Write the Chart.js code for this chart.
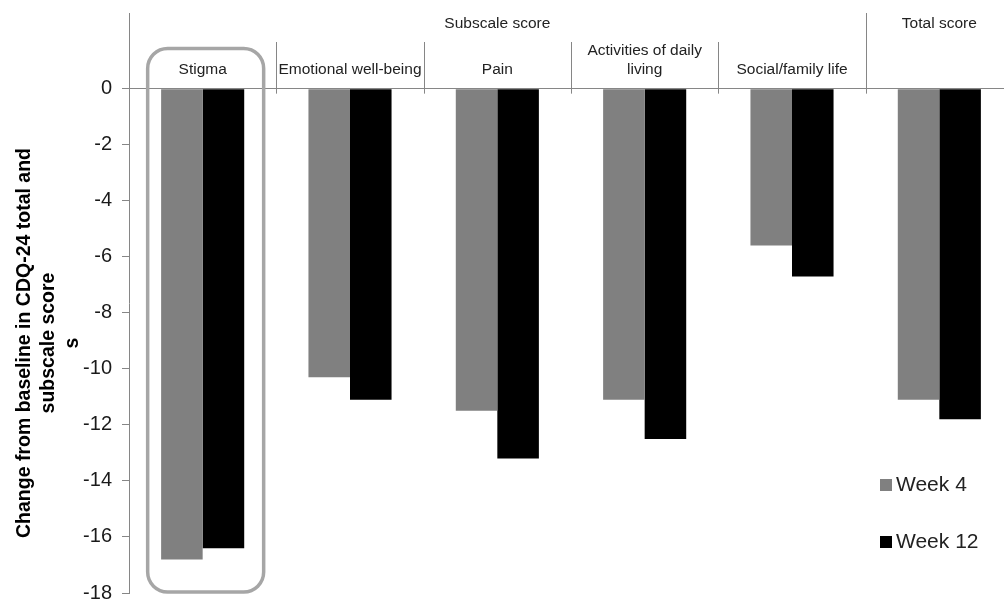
<!DOCTYPE html>
<html>
<head>
<meta charset="utf-8">
<title>CDQ-24 change from baseline</title>
<script src="https://cdn.jsdelivr.net/npm/chart.js"></script>
<style>
  html, body { margin: 0; padding: 0; background: #fff; overflow: hidden; width: 1004px; height: 603px; }
  /* plot runs a little past the right edge of the window, so the last group is clipped */
  #wrap { position: absolute; left: 0; top: 0; width: 1020px; height: 603px; }
</style>
</head>
<body>
<div id="wrap"><canvas id="cdqChart"></canvas></div>
<script>
// Data: change from baseline in CDQ-24 scores
const categories = ['Stigma', 'Emotional well-being', 'Pain', 'Activities of daily living', 'Social/family life', 'Total score'];
const categoryLines = [['Stigma'], ['Emotional well-being'], ['Pain'], ['Activities of daily', 'living'], ['Social/family life'], []];
const week4 = [-16.8, -10.3, -11.5, -11.1, -5.6, -11.1];
const week12 = [-16.4, -11.1, -13.2, -12.5, -6.7, -11.8];
const yTicks = [-18, -16, -14, -12, -10, -8, -6, -4, -2, 0];
const yTitleLines = ['Change from baseline in CDQ-24 total and', 'subscale score', 's'];

const FONT = "'Liberation Sans', Arial, sans-serif";
const axisGray = '#868686';

// Header row, group separators, highlight frame, title and legend
const chartExtras = {
    id: 'chartExtras',
    afterDraw(chart) {
        const ctx = chart.ctx;
        const x = chart.scales.x;
        const y = chart.scales.y;
        const area = chart.chartArea;
        const zeroY = y.getPixelForValue(0);
        const n = categories.length;
        const boundary = i => i === 0 ? area.left : (i === n ? area.right : (x.getPixelForValue(i - 1) + x.getPixelForValue(i)) / 2);

        ctx.save();

        // separators between groups
        ctx.strokeStyle = axisGray;
        ctx.lineWidth = 1;
        for (let i = 1; i <= n; i++) {
            const bx = Math.round(boundary(i)) + 0.5;
            const top = (i === n - 1 || i === n) ? area.top : 42;
            ctx.beginPath();
            ctx.moveTo(bx, top);
            ctx.lineTo(bx, zeroY + 5);
            ctx.stroke();
        }

        // group headers
        ctx.fillStyle = '#222';
        ctx.font = '15.5px ' + FONT;
        ctx.textAlign = 'center';
        ctx.textBaseline = 'middle';
        ctx.fillText('Subscale score', (boundary(0) + boundary(n - 1)) / 2, 24);
        ctx.fillText('Total score', x.getPixelForValue(n - 1), 24);

        // category names, bottom line sits just above the zero line
        categoryLines.forEach((lines, i) => {
            const cx = x.getPixelForValue(i);
            lines.forEach((t, j) => {
                ctx.fillText(t, cx, 70 - (lines.length - 1 - j) * 19);
            });
        });

        // rounded frame around the stigma group
        const fc = x.getPixelForValue(0) + 3;
        const fx = fc - 58, fw = 116;
        const fy = 48.5, fh = y.getPixelForValue(-18) - 1 - fy;
        ctx.strokeStyle = '#a6a6a6';
        ctx.lineWidth = 3.5;
        ctx.beginPath();
        ctx.roundRect(fx, fy, fw, fh, 20);
        ctx.stroke();

        // rotated y-axis title
        ctx.fillStyle = '#000';
        ctx.font = 'bold 19.5px ' + FONT;
        ctx.translate(0, 343);
        ctx.rotate(-Math.PI / 2);
        yTitleLines.forEach((t, j) => {
            ctx.fillText(t, 0, 25 + j * 24);
        });
        ctx.setTransform(1, 0, 0, 1, 0, 0);

        // legend inside the plot
        ctx.font = '21px ' + FONT;
        ctx.textAlign = 'left';
        const legendY = [485, 542];
        chart.data.datasets.forEach((ds, i) => {
            ctx.fillStyle = ds.backgroundColor;
            ctx.fillRect(880, legendY[i] - 6, 12, 12);
            ctx.fillStyle = '#222';
            ctx.fillText(ds.label, 896, legendY[i]);
        });

        ctx.restore();
    }
};

new Chart(document.getElementById('cdqChart'), {
    type: 'bar',
    data: {
        labels: categories,
        datasets: [
            { label: 'Week 4', data: week4, backgroundColor: '#808080', categoryPercentage: 0.564, barPercentage: 1.0 },
            { label: 'Week 12', data: week12, backgroundColor: '#000000', categoryPercentage: 0.564, barPercentage: 1.0 }
        ]
    },
    options: {
        responsive: true,
        maintainAspectRatio: false,
        animation: false,
        layout: { padding: { top: 13, bottom: 10, right: 7, left: 0 } },
        plugins: {
            legend: { display: false },
            tooltip: { enabled: false }
        },
        scales: {
            x: { display: false },
            y: {
                min: -18,
                max: 2.7,
                afterFit(scale) {
                    scale.width = 129;
                    scale.paddingTop = 0;
                    scale.paddingBottom = 0;
                },
                afterBuildTicks(scale) { scale.ticks = yTicks.map(v => ({ value: v })); },
                border: { display: true, color: axisGray, width: 1 },
                grid: {
                    drawOnChartArea: true,
                    color: c => (c.tick && c.tick.value === 0) ? axisGray : 'rgba(0,0,0,0)',
                    tickColor: axisGray,
                    tickLength: 7,
                    lineWidth: 1
                },
                ticks: {
                    padding: 10,
                    color: '#1a1a1a',
                    font: { family: FONT, size: 20 },
                    callback: v => String(v)
                }
            }
        }
    },
    plugins: [chartExtras]
});
</script>
</body>
</html>
